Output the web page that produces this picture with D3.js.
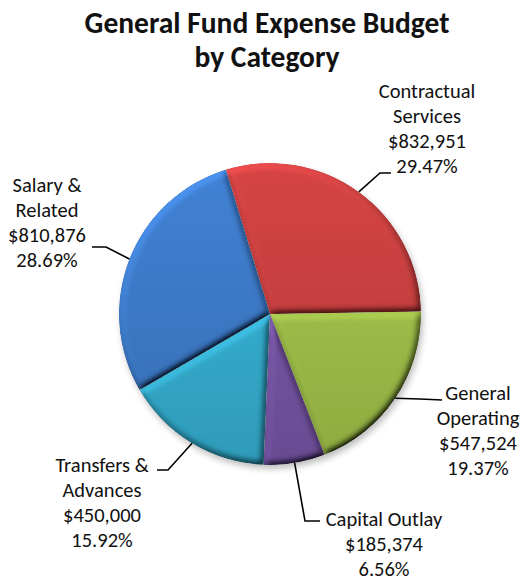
<!DOCTYPE html>
<html>
<head>
<meta charset="utf-8">
<script src="https://cdn.jsdelivr.net/npm/d3@7/dist/d3.min.js"></script>
<style>
  html, body { margin: 0; padding: 0; background: #fff; }
  svg { display: block; }
  text { font-family: Carlito, Calibri, Lato, "Noto Sans", sans-serif; fill: #111; }
</style>
</head>
<body>
<svg id="chart" width="522" height="582"></svg>
<script>
// Budget categories, in drawing order (clockwise from the top)
const categories = ["Contractual Services", "General Operating", "Capital Outlay", "Transfers & Advances", "Salary & Related"];
const amounts = [832951, 547524, 185374, 450000, 810876];
const amountLabels = ["$832,951", "$547,524", "$185,374", "$450,000", "$810,876"];
const percentLabels = ["29.47%", "19.37%", "6.56%", "15.92%", "28.69%"];
// Label text split into lines
const nameLines = [["Contractual", "Services"], ["General", "Operating"], ["Capital Outlay"], ["Transfers &", "Advances"], ["Salary &", "Related"]];
const sliceColors = ["#C43E3E", "#9BBA47", "#7352A0", "#33A9CA", "#3B77C3"];
const titleLines = ["General Fund Expense Budget", "by Category"];

const W = 522, H = 582;
const cx = 270, cy = 314, R = 151;
const svg = d3.select("#chart");
const defs = svg.append("defs");

// Pillow bevel: blurred alpha used as a height map, lit from the upper left
const f = defs.append("filter").attr("id", "bevel")
  .attr("filterUnits", "userSpaceOnUse")
  .attr("x", -W).attr("y", -H).attr("width", 2 * W).attr("height", 2 * H);
f.append("feGaussianBlur").attr("in", "SourceAlpha").attr("stdDeviation", 3.6).attr("result", "blur");
const lit = f.append("feDiffuseLighting").attr("in", "blur").attr("surfaceScale", 5)
  .attr("diffuseConstant", 1).attr("lighting-color", "#fff").attr("result", "light");
lit.append("feDistantLight").attr("azimuth", 235).attr("elevation", 50);
f.append("feComposite").attr("in", "SourceGraphic").attr("in2", "light")
  .attr("operator", "arithmetic").attr("k1", 1 / Math.sin(50 * Math.PI / 180))
  .attr("k2", 0).attr("k3", 0).attr("k4", 0).attr("result", "shaded");
f.append("feComposite").attr("in", "shaded").attr("in2", "SourceAlpha").attr("operator", "in");

// Soft shadow under the pie
const sh = defs.append("filter").attr("id", "shadow")
  .attr("x", "-20%").attr("y", "-20%").attr("width", "140%").attr("height", "140%");
sh.append("feGaussianBlur").attr("stdDeviation", 3);

// Per-slice vertical gradients (in the pie group's coordinates)
sliceColors.forEach((c, i) => {
  const g = defs.append("linearGradient").attr("id", "grad" + i)
    .attr("gradientUnits", "userSpaceOnUse")
    .attr("x1", 0).attr("y1", -R).attr("x2", 0).attr("y2", R);
  g.append("stop").attr("offset", "0%").attr("stop-color", d3.color(c).brighter(0.25));
  g.append("stop").attr("offset", "100%").attr("stop-color", d3.color(c).darker(0.25));
});

// Title
svg.append("g").selectAll("text").data(titleLines).join("text")
  .attr("x", 267).attr("y", (d, i) => 33 + i * 34)
  .attr("text-anchor", "middle").attr("font-weight", "bold").attr("font-size", 29.5)
  .text(d => d);

const a0 = -17 * Math.PI / 180;
const pie = d3.pie().sort(null).value(d => d).startAngle(a0).endAngle(a0 + 2 * Math.PI);
const arcs = pie(amounts);
const arc = d3.arc().innerRadius(0).outerRadius(R);

const gPie = svg.append("g").attr("transform", `translate(${cx},${cy})`);
gPie.append("circle").attr("cx", 2).attr("cy", 4).attr("r", R)
  .attr("fill", "rgba(0,0,0,0.25)").attr("filter", "url(#shadow)");
gPie.selectAll("path.slice").data(arcs).join("path")
  .attr("class", "slice")
  .attr("d", arc)
  .attr("fill", (d, i) => `url(#grad${i})`)
  .attr("filter", "url(#bevel)");

// Label placement: text centre x, first baseline y, leader elbow and end
const labelPos = [
  { x: 427, y: 98, elbow: [380, 173], end: [391, 173] },
  { x: 478, y: 400, elbow: [420, 399], end: [442, 400] },
  { x: 384, y: 526, elbow: [305, 521], end: [320, 521] },
  { x: 102, y: 472, elbow: [168, 470], end: [157, 470] },
  { x: 47, y: 192, elbow: [106, 247], end: [92, 247] }
];
const lineH = 25;

arcs.forEach((d, i) => {
  const mid = (d.startAngle + d.endAngle) / 2;
  const sx = cx + R * Math.sin(mid), sy = cy - R * Math.cos(mid);
  const p = labelPos[i];
  svg.append("path")
    .attr("d", d3.line()([[sx, sy], p.elbow, p.end]))
    .attr("fill", "none").attr("stroke", "#000").attr("stroke-width", 1.6);
  const lines = nameLines[i].concat([amountLabels[i], percentLabels[i]]);
  svg.append("g").selectAll("text").data(lines).join("text")
    .attr("x", p.x).attr("y", (t, j) => p.y + j * lineH)
    .attr("text-anchor", "middle").attr("font-size", 20.5)
    .text(t => t);
});
</script>
</body>
</html>
